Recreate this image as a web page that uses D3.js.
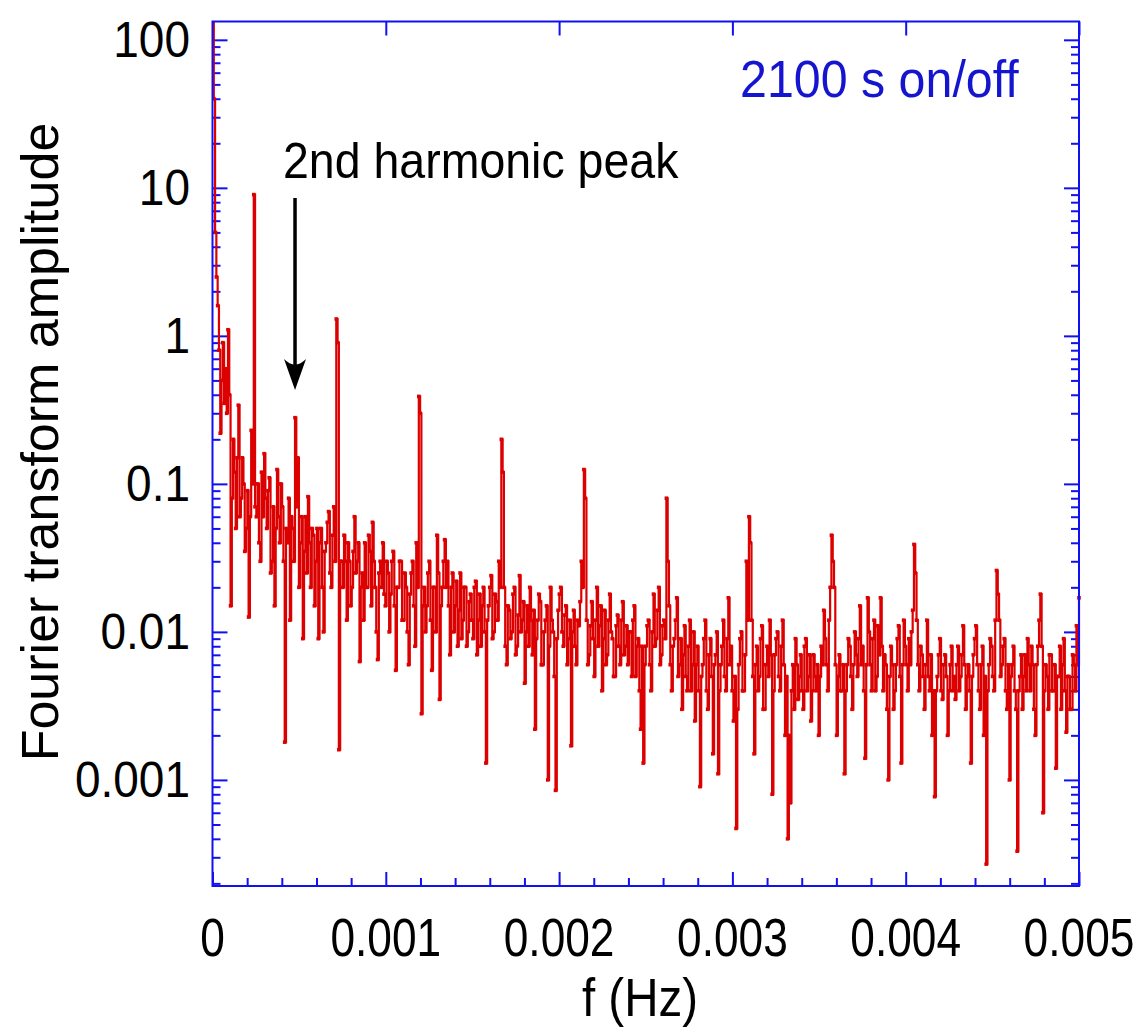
<!DOCTYPE html>
<html>
<head>
<meta charset="utf-8">
<script src="https://cdn.jsdelivr.net/npm/d3@7"></script>
<style>
  body { margin: 0; background: #fff; }
  svg { display: block; }
  text { font-family: "Liberation Sans", Arial, sans-serif; }
</style>
</head>
<body>
<svg width="1143" height="1030"></svg>
<script>
// frequency resolution of the spectrum (Hz per bin)
const df = 1 / 134400;

// Fourier transform amplitude, one value per bin starting at f = 0
const amplitude = [
  130, 40, 5.0, 2.5, 1.6, 0.8, 0.22, 0.5, 0.9, 0.35, 0.6, 0.3, 1.1, 0.4, 0.015, 0.08, 0.2, 0.12, 0.05, 0.15,
  0.34, 0.06, 0.08, 0.15, 0.1, 0.035, 0.05, 0.09, 0.0126, 0.06, 0.23, 0.1, 9, 0.07, 0.06, 0.1, 0.04, 0.03, 0.12, 0.06,
  0.16, 0.08, 0.05, 0.09, 0.11, 0.025, 0.03, 0.07, 0.015, 0.05, 0.125, 0.06, 0.04, 0.1, 0.07, 0.03, 0.0018, 0.05, 0.04, 0.08,
  0.012, 0.06, 0.05, 0.03, 0.28, 0.07, 0.15, 0.02, 0.04, 0.06, 0.009, 0.035, 0.06, 0.025, 0.082, 0.04, 0.02, 0.05, 0.045, 0.015,
  0.03, 0.05, 0.009, 0.04, 0.05, 0.02, 0.01, 0.035, 0.04, 0.055, 0.065, 0.025, 0.02, 0.045, 0.07, 0.03, 1.3, 0.9, 0.0016, 0.03,
  0.03, 0.02, 0.045, 0.03, 0.012, 0.04, 0.03, 0.015, 0.02, 0.035, 0.06, 0.025, 0.03, 0.04, 0.0063, 0.02, 0.025, 0.012, 0.04, 0.02,
  0.02, 0.045, 0.035, 0.015, 0.055, 0.03, 0.02, 0.01, 0.0065, 0.025, 0.03, 0.02, 0.04, 0.018, 0.015, 0.03, 0.025, 0.01, 0.018, 0.03,
  0.035, 0.015, 0.0055, 0.02, 0.02, 0.03, 0.03, 0.012, 0.012, 0.025, 0.02, 0.01, 0.006, 0.018, 0.025, 0.03, 0.015, 0.008, 0.04, 0.02,
  0.39, 0.3, 0.0028, 0.015, 0.02, 0.01, 0.015, 0.025, 0.03, 0.012, 0.0055, 0.02, 0.02, 0.01, 0.045, 0.025, 0.0035, 0.015, 0.02, 0.03,
  0.042, 0.02, 0.03, 0.015, 0.007, 0.02, 0.025, 0.01, 0.015, 0.022, 0.008, 0.014, 0.025, 0.009, 0.012, 0.02, 0.02, 0.008, 0.01, 0.016,
  0.018, 0.012, 0.009, 0.02, 0.022, 0.007, 0.012, 0.018, 0.008, 0.015, 0.02, 0.01, 0.0013, 0.012, 0.015, 0.02, 0.024, 0.009, 0.01, 0.018,
  0.016, 0.012, 0.03, 0.02, 0.2, 0.12, 0.02, 0.008, 0.006, 0.015, 0.014, 0.009, 0.01, 0.018, 0.02, 0.007, 0.008, 0.013, 0.024, 0.01,
  0.012, 0.016, 0.0045, 0.01, 0.015, 0.008, 0.02, 0.012, 0.007, 0.014, 0.0022, 0.009, 0.012, 0.018, 0.016, 0.006, 0.006, 0.01, 0.012, 0.015,
  0.001, 0.008, 0.02, 0.012, 0.01, 0.005, 0.00085, 0.009, 0.014, 0.018, 0.02, 0.01, 0.008, 0.013, 0.015, 0.006, 0.009, 0.012, 0.0017, 0.01,
  0.014, 0.008, 0.006, 0.012, 0.011, 0.016, 0.03, 0.02, 0.125, 0.08, 0.012, 0.006, 0.007, 0.011, 0.016, 0.009, 0.005, 0.012, 0.02, 0.008,
  0.011, 0.015, 0.004, 0.009, 0.014, 0.006, 0.007, 0.012, 0.018, 0.01, 0.009, 0.005, 0.005, 0.011, 0.013, 0.008, 0.006, 0.012, 0.016, 0.007,
  0.008, 0.011, 0.006, 0.01, 0.01, 0.005, 0.012, 0.015, 0.005, 0.008, 0.009, 0.004, 0.0022, 0.008, 0.0013, 0.006, 0.008, 0.011, 0.012, 0.006,
  0.004, 0.01, 0.018, 0.008, 0.009, 0.014, 0.02, 0.006, 0.007, 0.011, 0.012, 0.009, 0.08, 0.03, 0.015, 0.006, 0.004, 0.008, 0.009, 0.012,
  0.017, 0.005, 0.006, 0.009, 0.003, 0.007, 0.011, 0.005, 0.004, 0.008, 0.012, 0.004, 0.006, 0.01, 0.0025, 0.006, 0.008, 0.004, 0.0009, 0.005,
  0.006, 0.009, 0.012, 0.004, 0.003, 0.007, 0.009, 0.005, 0.0015, 0.006, 0.007, 0.01, 0.0011, 0.004, 0.006, 0.008, 0.012, 0.005, 0.004, 0.009,
  0.017, 0.006, 0.008, 0.004, 0.0025, 0.005, 0.00047, 0.003, 0.006, 0.009, 0.01, 0.004, 0.004, 0.007, 0.03, 0.012, 0.06, 0.04, 0.012, 0.005,
  0.0015, 0.006, 0.008, 0.004, 0.005, 0.009, 0.011, 0.003, 0.003, 0.006, 0.008, 0.005, 0.012, 0.007, 0.0008, 0.004, 0.007, 0.009, 0.01, 0.005,
  0.004, 0.008, 0.012, 0.006, 0.002, 0.005, 0.0004, 0.002, 0.0007, 0.004, 0.006, 0.003, 0.009, 0.006, 0.0035, 0.005, 0.007, 0.004, 0.003, 0.008,
  0.009, 0.004, 0.005, 0.007, 0.0025, 0.004, 0.007, 0.005, 0.004, 0.006, 0.002, 0.005, 0.008, 0.006, 0.014, 0.009, 0.006, 0.004, 0.012, 0.02,
  0.045, 0.03, 0.02, 0.006, 0.002, 0.005, 0.007, 0.004, 0.004, 0.006, 0.0011, 0.004, 0.006, 0.009, 0.008, 0.005, 0.003, 0.006, 0.01, 0.007,
  0.005, 0.009, 0.015, 0.006, 0.008, 0.004, 0.0014, 0.006, 0.017, 0.01, 0.006, 0.004, 0.009, 0.012, 0.004, 0.005, 0.011, 0.007, 0.017, 0.008,
  0.004, 0.007, 0.006, 0.003, 0.001, 0.005, 0.008, 0.006, 0.003, 0.004, 0.006, 0.009, 0.011, 0.005, 0.0013, 0.006, 0.012, 0.008, 0.006, 0.004,
  0.009, 0.006, 0.01, 0.014, 0.039, 0.025, 0.012, 0.006, 0.004, 0.008, 0.007, 0.005, 0.003, 0.006, 0.012, 0.005, 0.004, 0.007, 0.002, 0.004,
  0.00077, 0.004, 0.005, 0.007, 0.009, 0.004, 0.0035, 0.006, 0.007, 0.005, 0.002, 0.004, 0.006, 0.008, 0.004, 0.005, 0.0035, 0.006, 0.008, 0.004,
  0.005, 0.007, 0.011, 0.006, 0.003, 0.005, 0.006, 0.004, 0.0013, 0.005, 0.007, 0.009, 0.011, 0.006, 0.004, 0.003, 0.006, 0.008, 0.002, 0.005,
  0.00027, 0.004, 0.006, 0.009, 0.008, 0.005, 0.004, 0.012, 0.026, 0.018, 0.012, 0.005, 0.006, 0.008, 0.009, 0.004, 0.003, 0.006, 0.001, 0.005,
  0.006, 0.008, 0.004, 0.003, 0.00033, 0.004, 0.005, 0.007, 0.003, 0.005, 0.007, 0.004, 0.009, 0.006, 0.004, 0.008, 0.006, 0.003, 0.002, 0.006,
  0.008, 0.012, 0.018, 0.008, 0.0006, 0.004, 0.006, 0.005, 0.003, 0.007, 0.007, 0.004, 0.004, 0.006, 0.0012, 0.005, 0.005, 0.008, 0.003, 0.006,
  0.009, 0.004, 0.0021, 0.005, 0.005, 0.003, 0.003, 0.007, 0.006, 0.004, 0.011, 0.006, 0.017
];

const xTicks = [0, 0.001, 0.002, 0.003, 0.004, 0.005];
const xTickLabels = ["0", "0.001", "0.002", "0.003", "0.004", "0.005"];
const yTicks = [0.001, 0.01, 0.1, 1, 10, 100];
const yTickLabels = ["0.001", "0.01", "0.1", "1", "10", "100"];

const svg = d3.select("svg");
const plotLeft = 212.5, plotRight = 1079, plotTop = 21.5, plotBottom = 886;

const x = d3.scaleLinear().domain([0, 0.005]).range([plotLeft, plotRight]);
const y = d3.scaleLog().domain([1.92e-4, 133]).range([plotBottom, plotTop]);

const axisColor = "#1010f0";
const red = "#dc0000";

// minor ticks
const xMinor = d3.range(0, 26).map(k => k * 0.0002).filter(v => !xTicks.some(t => Math.abs(t - v) < 1e-9));
const yMinor = [];
for (let d = -4; d <= 2; d++) {
  for (let k = 2; k <= 9; k++) {
    const v = k * Math.pow(10, d);
    if (v > y.domain()[0] && v < y.domain()[1]) yMinor.push(v);
  }
}

function ticks(g) {
  g.select(".domain").remove();
  g.selectAll("line").attr("stroke", axisColor).attr("stroke-width", 2);
  g.selectAll("text").remove();
}

// bottom
svg.append("g").attr("transform", `translate(0,${plotBottom})`)
  .call(d3.axisBottom(x).tickValues(xMinor).tickSize(-8).tickSizeOuter(0)).call(ticks);
svg.append("g").attr("transform", `translate(0,${plotBottom})`)
  .call(d3.axisBottom(x).tickValues(xTicks).tickSize(-14).tickSizeOuter(0)).call(ticks);
// top (major only)
svg.append("g").attr("transform", `translate(0,${plotTop})`)
  .call(d3.axisTop(x).tickValues(xTicks).tickSize(-14).tickSizeOuter(0)).call(ticks);
// left
svg.append("g").attr("transform", `translate(${plotLeft},0)`)
  .call(d3.axisLeft(y).tickValues(yMinor).tickSize(-8).tickSizeOuter(0)).call(ticks);
svg.append("g").attr("transform", `translate(${plotLeft},0)`)
  .call(d3.axisLeft(y).tickValues(yTicks).tickSize(-15).tickSizeOuter(0)).call(ticks);
// right
svg.append("g").attr("transform", `translate(${plotRight},0)`)
  .call(d3.axisRight(y).tickValues(yMinor).tickSize(-8).tickSizeOuter(0)).call(ticks);
svg.append("g").attr("transform", `translate(${plotRight},0)`)
  .call(d3.axisRight(y).tickValues(yTicks).tickSize(-15).tickSizeOuter(0)).call(ticks);

// tick labels
svg.append("g").selectAll("text")
  .data(xTicks)
  .join("text")
  .attr("transform", d => `translate(${x(d)},956) scale(0.82,1)`)
  .attr("text-anchor", "middle")
  .attr("font-size", 54)
  .text((d, i) => xTickLabels[i]);

svg.append("g").selectAll("text")
  .data(yTicks)
  .join("text")
  .attr("transform", d => `translate(190,${y(d) + 17}) scale(0.92,1)`)
  .attr("text-anchor", "end")
  .attr("font-size", 50)
  .text((d, i) => yTickLabels[i]);

// axis titles
svg.append("text")
  .attr("transform", "translate(640,1016) scale(0.88,1)")
  .attr("text-anchor", "middle")
  .attr("font-size", 54)
  .text("f (Hz)");

svg.append("text")
  .attr("transform", "translate(58,442) rotate(-90)")
  .attr("text-anchor", "middle")
  .attr("font-size", 52)
  .text("Fourier transform amplitude");

// data
svg.append("defs").append("clipPath").attr("id", "plot")
  .append("rect").attr("x", plotLeft).attr("y", plotTop - 2)
  .attr("width", plotRight - plotLeft + 2).attr("height", plotBottom - plotTop + 2);

const series = svg.append("g").attr("clip-path", "url(#plot)");
const line = d3.line()
  .curve(d3.curveStepAfter)
  .x((d, i) => x(i * df))
  .y(d => y(d));

series.append("path")
  .datum(amplitude)
  .attr("fill", "none")
  .attr("stroke", red)
  .attr("stroke-width", 2.2)
  .attr("d", line);

series.selectAll("rect")
  .data(amplitude)
  .join("rect")
  .attr("x", (d, i) => x(i * df) - 1.8)
  .attr("y", d => y(d) - 1.8)
  .attr("width", 3.6)
  .attr("height", 3.6)
  .attr("fill", red);

// frame
svg.append("rect")
  .attr("x", plotLeft).attr("y", plotTop)
  .attr("width", plotRight - plotLeft).attr("height", plotBottom - plotTop)
  .attr("fill", "none")
  .attr("stroke", axisColor)
  .attr("stroke-width", 2);

// annotations
svg.append("text")
  .attr("transform", "translate(740,97) scale(0.93,1)")
  .attr("font-size", 52)
  .attr("fill", "#1515d0")
  .text("2100 s on/off");

svg.append("text")
  .attr("transform", "translate(283,178) scale(0.93,1)")
  .attr("font-size", 50)
  .attr("fill", "#000")
  .text("2nd harmonic peak");

const ax = x(64 * df);
svg.append("line")
  .attr("x1", ax).attr("x2", ax)
  .attr("y1", 198).attr("y2", 372)
  .attr("stroke", "#000")
  .attr("stroke-width", 3.5);

svg.append("path")
  .attr("d", `M${ax},390 L${ax - 11},359 Q${ax},370 ${ax + 11},359 Z`)
  .attr("fill", "#000");
</script>
</body>
</html>
